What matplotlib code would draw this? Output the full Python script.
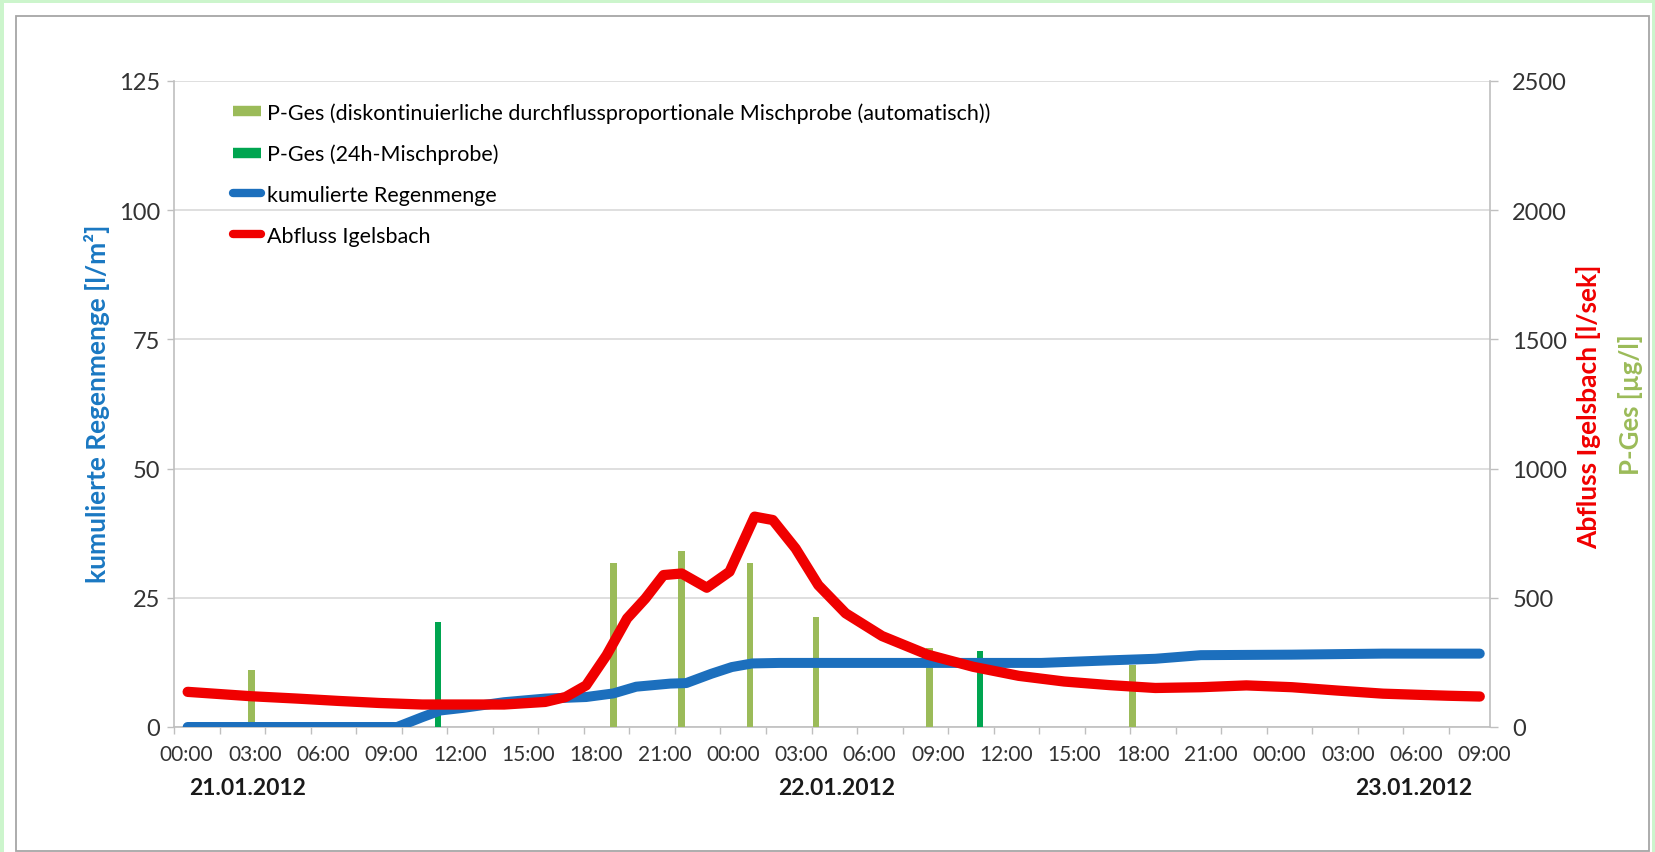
import numpy as np
import matplotlib.pyplot as plt
from matplotlib.patches import Rectangle
from matplotlib.lines import Line2D
from matplotlib.transforms import blended_transform_factory

plt.rcParams['font.family'] = ['Lato', 'DejaVu Sans']

# hours after 21.01.2012 00:00
rain_hours = [0.05, 9.25, 10.35, 11.15, 12.15, 13.95, 15.75, 17.55, 18.75, 19.75, 21.25,
              21.95, 23.05, 23.95, 24.85, 26.05, 30.0, 37.55, 40.55, 42.55, 44.55, 48.55,
              52.55, 56.8]
rain = [0, 0, 1.9, 3.2, 3.7, 4.8, 5.5, 5.8, 6.5, 7.8, 8.4, 8.5, 10.3, 11.6, 12.3, 12.4,
        12.4, 12.4, 12.9, 13.2, 13.9, 14.0, 14.2, 14.2]

flow_hours = [0.05, 2.85, 4.85, 6.65, 8.45, 10.35, 12.15, 13.95, 15.75, 16.65, 17.55, 18.45,
              19.35, 20.15, 20.95, 21.75, 22.85, 23.85, 24.95, 25.75, 26.75, 27.75, 28.95,
              30.55, 32.55, 34.55, 36.55, 38.55, 40.55, 42.55, 44.55, 46.55, 48.55, 50.55,
              52.55, 53.95, 55.4, 56.8]
flow = [136, 119, 110, 101, 93, 87, 87, 87, 97, 116, 161, 278, 420, 497, 588, 594, 539, 601,
        814, 801, 691, 549, 440, 352, 280, 233, 198, 176, 162, 151, 154, 161, 154, 141, 129,
        125, 121, 118]

pges_auto_hours = [2.85, 18.75, 21.75, 24.75, 27.65, 32.65, 41.55]
pges_auto = [220, 633, 682, 633, 424, 306, 239]
pges_24h_hours = [11.05, 34.85]
pges_24h = [407, 293]

tick_hours = list(range(0, 58, 3))
tick_labels = ['%02d:00' % (h % 24) for h in tick_hours]
dates = ['21.01.2012', '22.01.2012', '23.01.2012']
date_hours = [2.7, 28.55, 53.9]

W, H = 1656, 853
fig = plt.figure(figsize=(W / 100, H / 100), dpi=100)
fig.patch.set_facecolor('#ccf5cc')
fig.patches.append(Rectangle((4 / W, 0), (W - 8) / W, (H - 4) / H, transform=fig.transFigure,
                             facecolor='white', edgecolor='none', zorder=-10))
fig.patches.append(Rectangle((16 / W, 1 / H), (1649 - 16) / W, (H - 18) / H,
                             transform=fig.transFigure, facecolor='white',
                             edgecolor='#a6a6a6', lw=1.3, zorder=-9))

ax1 = fig.add_axes([174 / W, (H - 728) / H, (1490 - 174) / W, (728 - 82) / H])
ax2 = ax1.twinx()
ax1.patch.set_visible(False)
ax2.patch.set_visible(False)

grey = '#bfbfbf'
blue = '#1c6fbd'
red = '#f00000'
light_green = '#9bbb59'
dark_green = '#00a550'

ax2.bar(pges_auto_hours, pges_auto, width=0.3, color=light_green, zorder=1)
ax2.bar(pges_24h_hours, pges_24h, width=0.25, color=dark_green, zorder=1)
ax2.plot(rain_hours, rain, color=blue, lw=7.2, solid_capstyle='round', solid_joinstyle='round',
         transform=ax1.transData, zorder=2)
ax2.plot(flow_hours, flow, color=red, lw=7.4, solid_capstyle='round', solid_joinstyle='round',
         zorder=3)

ax1.set_xlim(-0.55, 57.25)
ax1.set_ylim(0, 125)
ax2.set_ylim(0, 2500)
ax1.set_yticks([0, 25, 50, 75, 100, 125])
ax2.set_yticks([0, 500, 1000, 1500, 2000, 2500])
ax1.set_xticks(tick_hours)
ax1.set_xticklabels(tick_labels)
ax1.set_xticks(np.arange(-0.55, 57.3, 2.0), minor=True)

ax1.yaxis.grid(True, color='#d9d9d9', lw=1.2)
ax1.set_axisbelow(True)

for s in ['top', 'right']:
    ax1.spines[s].set_visible(False)
for s in ['top', 'left', 'bottom']:
    ax2.spines[s].set_visible(False)
for sp in [ax1.spines['left'], ax1.spines['bottom'], ax2.spines['right']]:
    sp.set_color(grey)
    sp.set_linewidth(1.2)

tc = '#333333'
ax1.tick_params(axis='x', which='major', length=0, pad=12, labelsize=15, labelcolor=tc)
ax1.tick_params(axis='x', which='minor', length=5, width=1, color=grey, direction='out')
ax1.tick_params(axis='y', length=5, width=1, color=grey, pad=5, labelsize=17, labelcolor=tc)
ax2.tick_params(axis='y', length=6, width=1, color=grey, pad=10, labelsize=17, labelcolor=tc)

# two-level date labels under the time axis
trans = blended_transform_factory(ax1.transData, fig.transFigure)
for d, h in zip(dates, date_hours):
    ax1.text(h, (H - 789) / H, d, transform=trans, ha='center', va='center',
             fontsize=16.5, fontweight='bold', color='#1a1a1a')

fig.text(97 / W, (H - 404) / H, 'kumulierte Regenmenge [l/m²]', rotation=90, ha='center',
         va='center', fontsize=19, fontweight='bold', color='#1a78c2')
fig.text(1589 / W, (H - 407) / H, 'Abfluss Igelsbach [l/sek]', rotation=90, ha='center',
         va='center', fontsize=19, fontweight='bold', color=red)
fig.text(1631 / W, (H - 405) / H, 'P-Ges [µg/l]', rotation=90, ha='center',
         va='center', fontsize=18.5, fontweight='bold', color=light_green)

handles = [Line2D([], [], color=light_green, lw=7.5, solid_capstyle='butt'),
           Line2D([], [], color=dark_green, lw=7.5, solid_capstyle='butt'),
           Line2D([], [], color=blue, lw=6, solid_capstyle='round'),
           Line2D([], [], color=red, lw=6, solid_capstyle='round')]
labels = ['P-Ges (diskontinuierliche durchflussproportionale Mischprobe (automatisch))',
          'P-Ges (24h-Mischprobe)', 'kumulierte Regenmenge', 'Abfluss Igelsbach']
ax2.legend(handles, labels, loc='upper left', bbox_to_anchor=(233 / W, (H - 103) / H),
           bbox_transform=fig.transFigure, frameon=False, fontsize=15.5, handlelength=1.3,
           handletextpad=0.3, labelspacing=0.97, borderpad=0, borderaxespad=0)

fig.savefig('out.png', dpi=100)
